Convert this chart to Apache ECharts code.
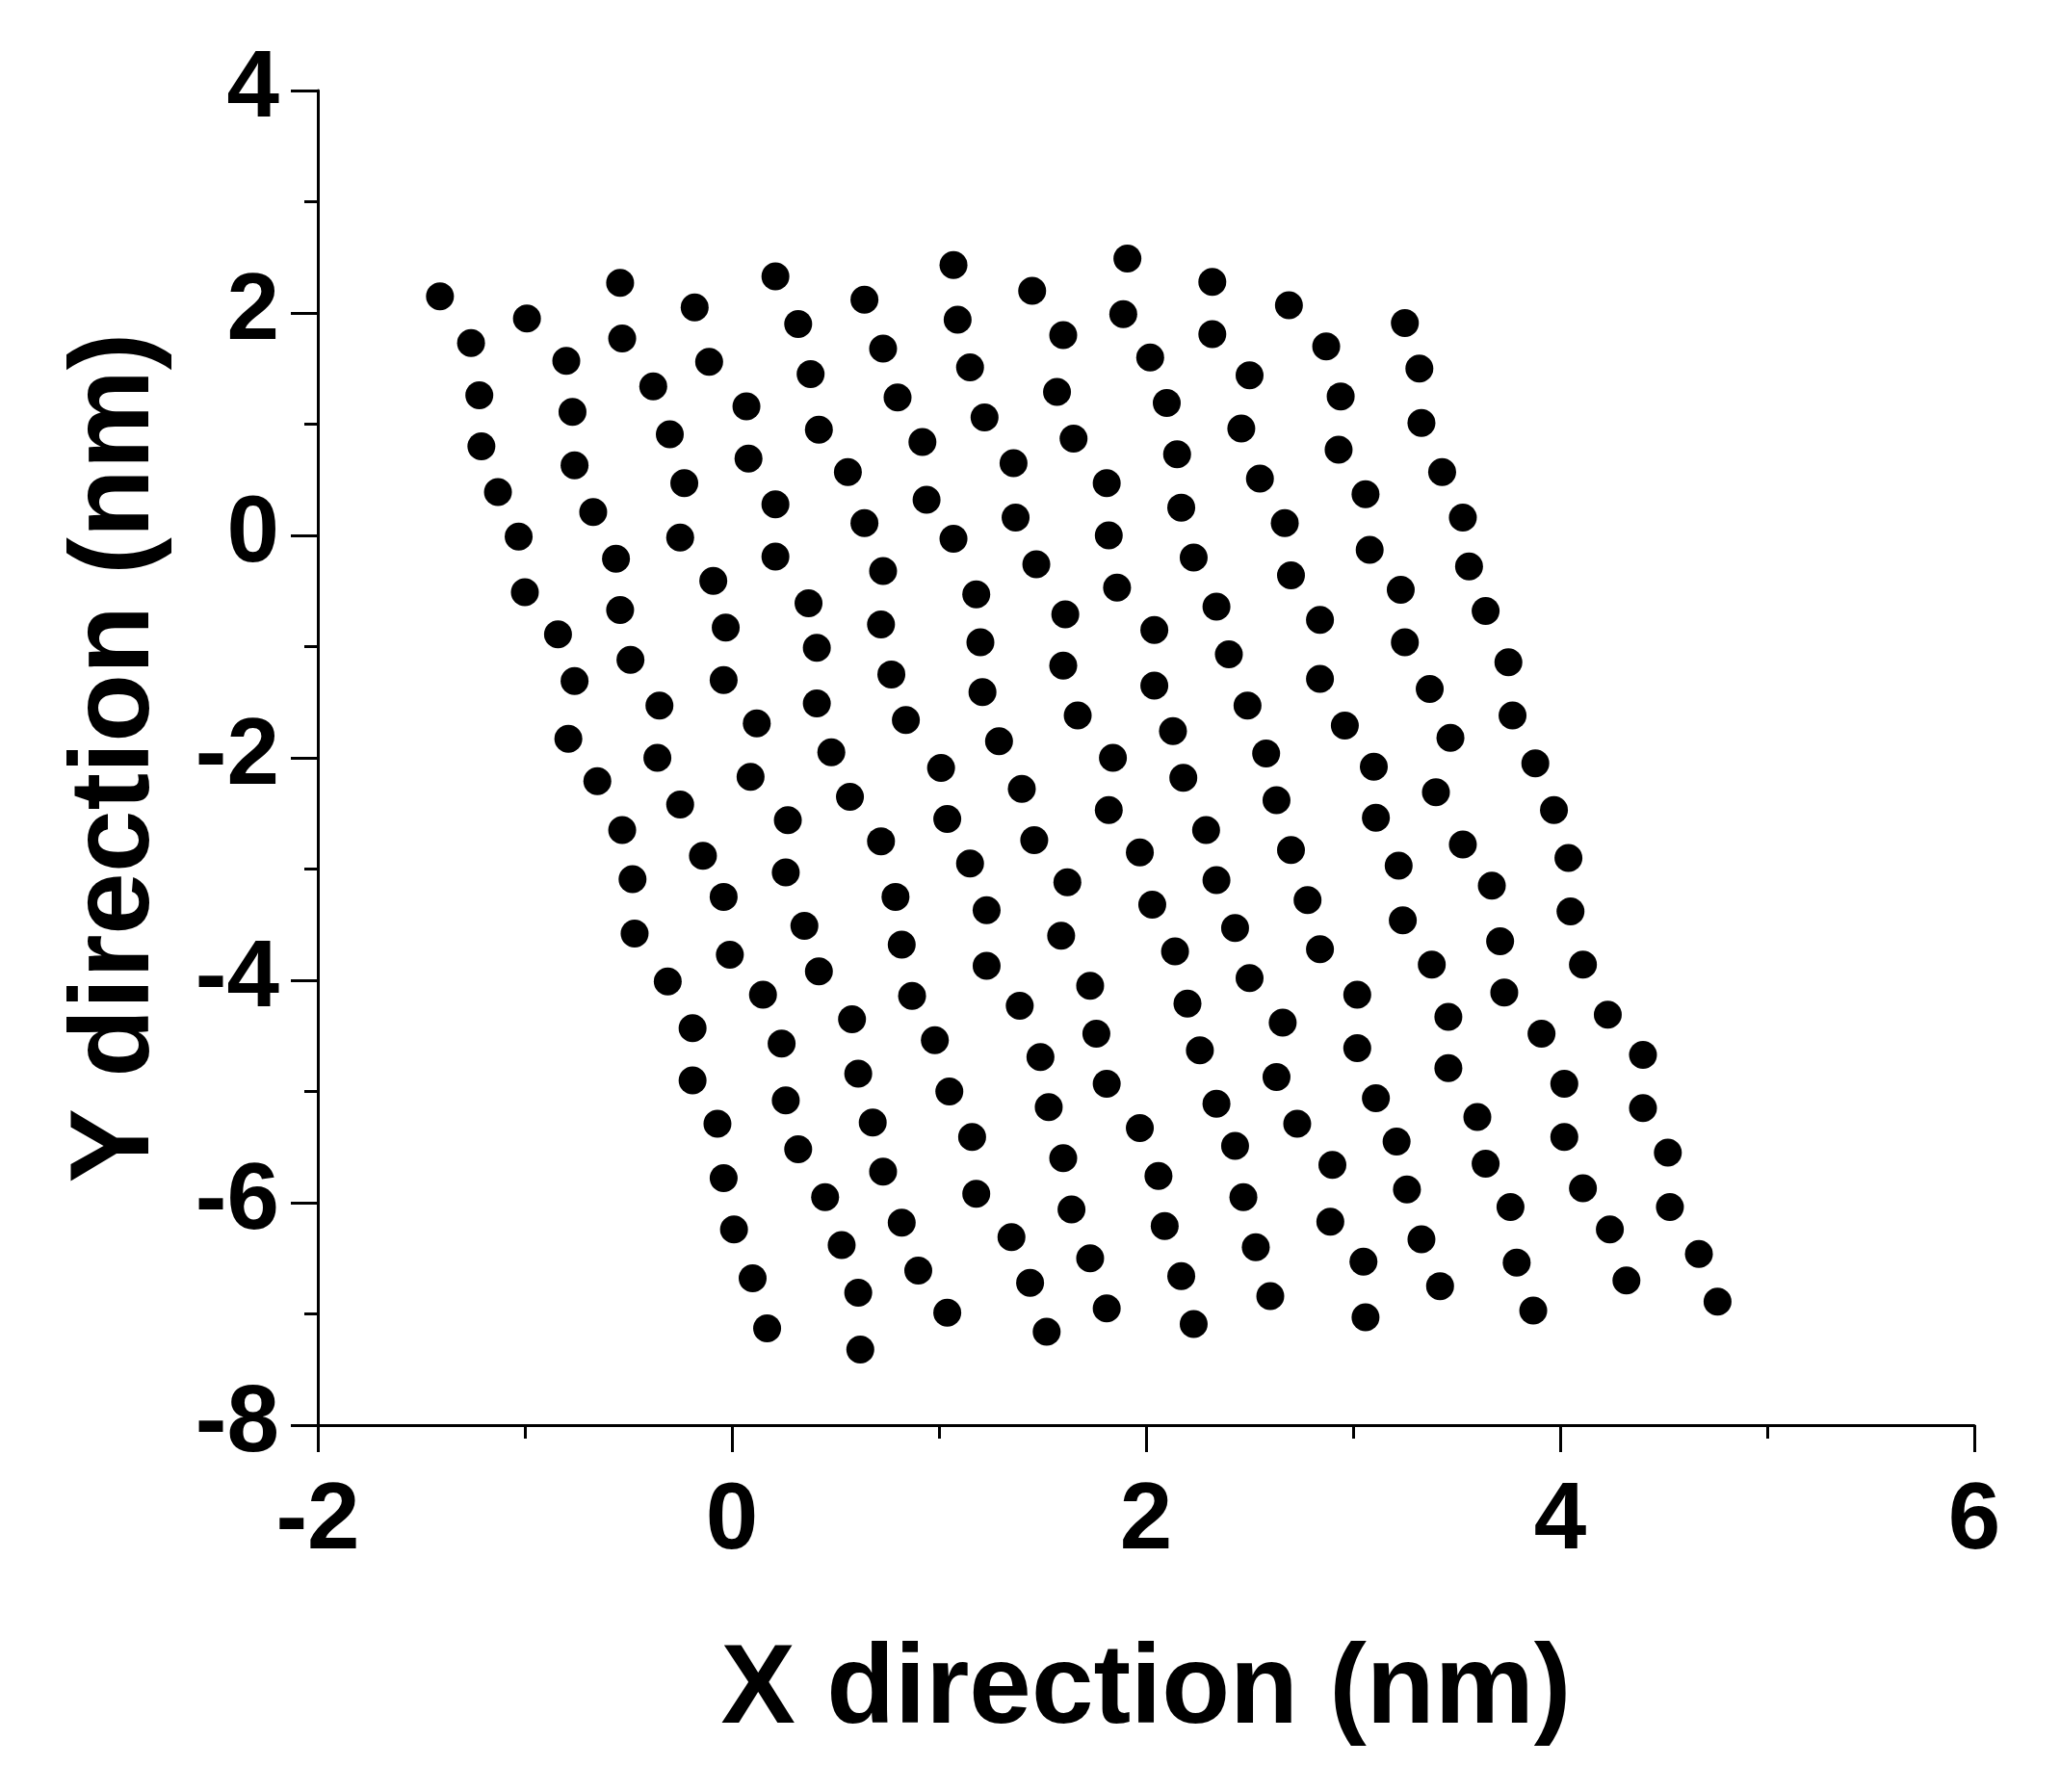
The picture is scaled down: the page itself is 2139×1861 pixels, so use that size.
<!DOCTYPE html>
<html>
<head>
<meta charset="utf-8">
<title>Lattice positions</title>
<script src="https://cdn.jsdelivr.net/npm/echarts@6/dist/echarts.min.js"></script>
<style>
  html, body { margin: 0; padding: 0; background: #fff; }
  #container { width: 2139px; height: 1861px; }
</style>
</head>
<body>
<div id="container"></div>
<script>
// atom positions (nm)
var xNm = [
    // upper left
    -1.41, -0.99, -0.54, -0.18, 0.21, 0.64, -1.26, -0.80, -0.53, -0.11, 0.32, -1.22, -0.77, -0.38, 0.07, 0.38,
    -1.21, -0.76, -0.30, 0.08, 0.42, -1.13, -0.67, -0.23, 0.21, 0.56, -1.03, -0.56, -0.25, 0.21, 0.64, -1.00,
    -0.54, -0.09, 0.37,
    // upper middle
    1.07, 1.45, 1.91, 2.32, 2.69, 1.09, 0.73, 1.60, 1.89, 2.32, 1.15, 2.02, 2.50, 0.80, 1.57, 2.10, 1.22, 2.46,
    0.92, 1.65, 2.15, 1.36, 1.81, 2.55, 0.94, 2.17, 1.37, 2.67, 1.07, 1.82, 1.47, 2.23, 0.73, 2.70, 1.18, 1.86,
    2.34, 1.61,
    // upper right
    3.25, 2.87, 3.32, 2.94, 3.33, 2.93, 3.43, 3.06, 3.53, 3.08, 3.56, 3.23, 3.64,
    // middle left
    -0.84, -0.03, 0.41, -0.49, -0.76, -0.04, 0.41, -0.35, 0.12, -0.79, 0.48, -0.36, 0.09, -0.65, 0.57, -0.25,
    0.27, -0.53, -0.14, 0.26, -0.48, -0.04, 0.35, -0.47, -0.01, 0.42, -0.31, 0.15,
    // centre
    0.72, 1.20, 2.04, 0.77, 1.60, 2.40, 1.21, 2.04, 0.84, 1.67, 2.49, 1.29, 2.13, 1.84, 1.01, 2.58, 1.40, 2.18,
    1.82, 2.63, 1.04, 2.29, 0.72, 1.46, 1.97, 2.70, 1.15, 1.62, 2.34, 0.79, 2.03, 2.78, 1.23, 2.43, 1.59, 0.82,
    2.14, 2.84, 1.23, 2.50, 1.73, 0.87, 1.39,
    // middle right
    2.84, 3.25, 2.84, 3.75, 3.37, 2.96, 3.77, 3.47, 3.10, 3.88, 3.40, 3.11, 3.97, 3.53, 3.22, 4.04, 3.67, 3.24,
    4.05, 3.71, 3.38, 4.11, 3.02, 3.73,
    // lower left
    -0.19, 0.24, 0.58, 0.98, -0.19, 0.26, 0.61, 1.05, -0.07, 0.68, 1.16, 0.32, -0.04, 0.73, 1.18, 0.45, 0.01,
    0.82, 1.35, 0.53, 0.10, 0.90, 0.61, 1.04, 0.17, 0.62,
    // lower middle
    2.20, 3.46, 2.66, 1.76, 1.49, 2.26, 3.02, 3.46, 2.63, 1.81, 2.34, 3.11, 1.53, 3.60, 2.73, 1.97, 3.21, 2.43,
    1.60, 2.90, 3.64, 2.06, 3.26, 2.47, 1.64, 2.89, 2.09, 3.33, 2.53, 1.73, 3.05, 1.44, 2.17, 3.42, 2.60, 1.81,
    3.06, 2.23, 1.52,
    // lower right
    4.23, 3.91, 4.40, 4.02, 4.40, 4.02, 4.52, 4.11, 4.53, 3.76, 4.24, 4.67, 3.79, 4.32, 4.76, 3.87
];
var yNm = [
    2.15, 1.95, 2.27, 2.05, 2.33, 2.12, 1.73, 1.57, 1.77, 1.56, 1.90, 1.26, 1.11, 1.34, 1.16, 1.45,
    0.80, 0.63, 0.91, 0.69, 0.95, 0.39, 0.21, 0.47, 0.28, 0.57, -0.01, -0.21, -0.02, -0.19, 0.11, -0.51,
    -0.67, -0.41, -0.61,

    2.43, 2.20, 2.49, 2.28, 2.07, 1.94, 1.68, 1.80, 1.99, 1.81, 1.51, 1.60, 1.44, 1.24, 1.29, 1.19, 1.06, 0.96,
    0.84, 0.87, 0.73, 0.65, 0.47, 0.51, 0.32, 0.25, 0.16, 0.11, -0.03, 0.00, -0.26, -0.20, -0.32, -0.36, -0.53, -0.47,
    -0.64, -0.71,

    1.91, 1.70, 1.50, 1.25, 1.01, 0.77, 0.57, 0.37, 0.16, -0.13, -0.28, -0.49, -0.68,

    -0.89, -0.83, -1.01, -1.12, -1.31, -1.30, -1.51, -1.53, -1.69, -1.83, -1.95, -2.00, -2.17, -2.21, -2.35, -2.42,
    -2.56, -2.65, -2.88, -3.03, -3.09, -3.25, -3.51, -3.58, -3.77, -3.92, -4.01, -4.13,

    -0.80, -0.96, -0.85, -1.25, -1.17, -1.07, -1.41, -1.35, -1.66, -1.62, -1.53, -1.85, -1.76, -2.00, -2.09, -1.96, -2.28, -2.18,
    -2.47, -2.38, -2.55, -2.65, -2.75, -2.74, -2.85, -2.83, -2.95, -3.12, -3.10, -3.25, -3.32, -3.28, -3.37, -3.53, -3.60, -3.68,
    -3.74, -3.72, -3.87, -3.98, -4.05, -4.14, -4.23,

    -0.76, -0.96, -1.29, -1.14, -1.38, -1.71, -1.62, -1.82, -2.08, -2.05, -2.31, -2.54, -2.47, -2.78, -2.97, -2.90, -3.15, -3.46,
    -3.38, -3.65, -3.86, -3.86, -4.13, -4.11,

    -4.43, -4.57, -4.35, -4.54, -4.90, -5.08, -4.84, -5.00, -5.29, -5.28, -5.41, -5.52, -5.78, -5.72, -5.92, -5.95, -6.24,
    -6.18, -6.31, -6.38, -6.68, -6.61, -6.81, -6.99, -7.13, -7.32,

    -4.21, -4.33, -4.38, -4.48, -4.69, -4.63, -4.61, -4.79, -4.87, -4.93, -5.11, -5.06, -5.14, -5.23, -5.29, -5.33, -5.45, -5.49,
    -5.60, -5.66, -5.65, -5.76, -5.88, -5.95, -6.06, -6.17, -6.21, -6.33, -6.40, -6.50, -6.53, -6.72, -6.66, -6.75, -6.84, -6.95,
    -7.03, -7.09, -7.16,

    -4.31, -4.48, -4.67, -4.93, -5.15, -5.41, -5.55, -5.87, -6.04, -6.04, -6.24, -6.46, -6.54, -6.70, -6.89, -6.97
];
var xRange = [-2, 6];
var yRange = [-8, 4];
var tickStep = 2;

var points = [];
for (var i = 0; i < xNm.length; i++) {
    points.push([xNm[i], yNm[i]]);
}

var font = "'Liberation Sans', Arial, Helvetica, sans-serif";
var black = '#000';

function axisStyle(name, gap, margin) {
    return {
        type: 'value',
        name: name,
        nameLocation: 'middle',
        nameGap: gap,
        nameTextStyle: {fontSize: 116, fontWeight: 'bold', color: black, fontFamily: font},
        interval: tickStep,
        axisLine: {show: true, onZero: false, lineStyle: {color: black, width: 3}},
        axisTick: {show: true, inside: false, length: 28, lineStyle: {color: black, width: 3}},
        minorTick: {show: true, splitNumber: 2, length: 14, lineStyle: {color: black, width: 3}},
        splitLine: {show: false},
        minorSplitLine: {show: false},
        axisLabel: {fontSize: 98, fontWeight: 'bold', color: black, fontFamily: font, margin: margin}
    };
}

var xAxis = axisStyle('X direction (nm)', 219, 52);
xAxis.min = xRange[0];
xAxis.max = xRange[1];
var yAxis = axisStyle('Y direction (nm)', 150, 40);
yAxis.min = yRange[0];
yAxis.max = yRange[1];

var myChart = echarts.init(document.getElementById('container'), null, {renderer: 'canvas'});
var option = {
    animation: false,
    backgroundColor: '#fff',
    grid: {left: 330, right: 89, top: 94, bottom: 381},
    xAxis: xAxis,
    yAxis: yAxis,
    series: [{
        type: 'scatter',
        data: points,
        symbol: 'circle',
        symbolSize: 29,
        itemStyle: {color: black, opacity: 1}
    }]
};
myChart.setOption(option);
</script>
</body>
</html>
